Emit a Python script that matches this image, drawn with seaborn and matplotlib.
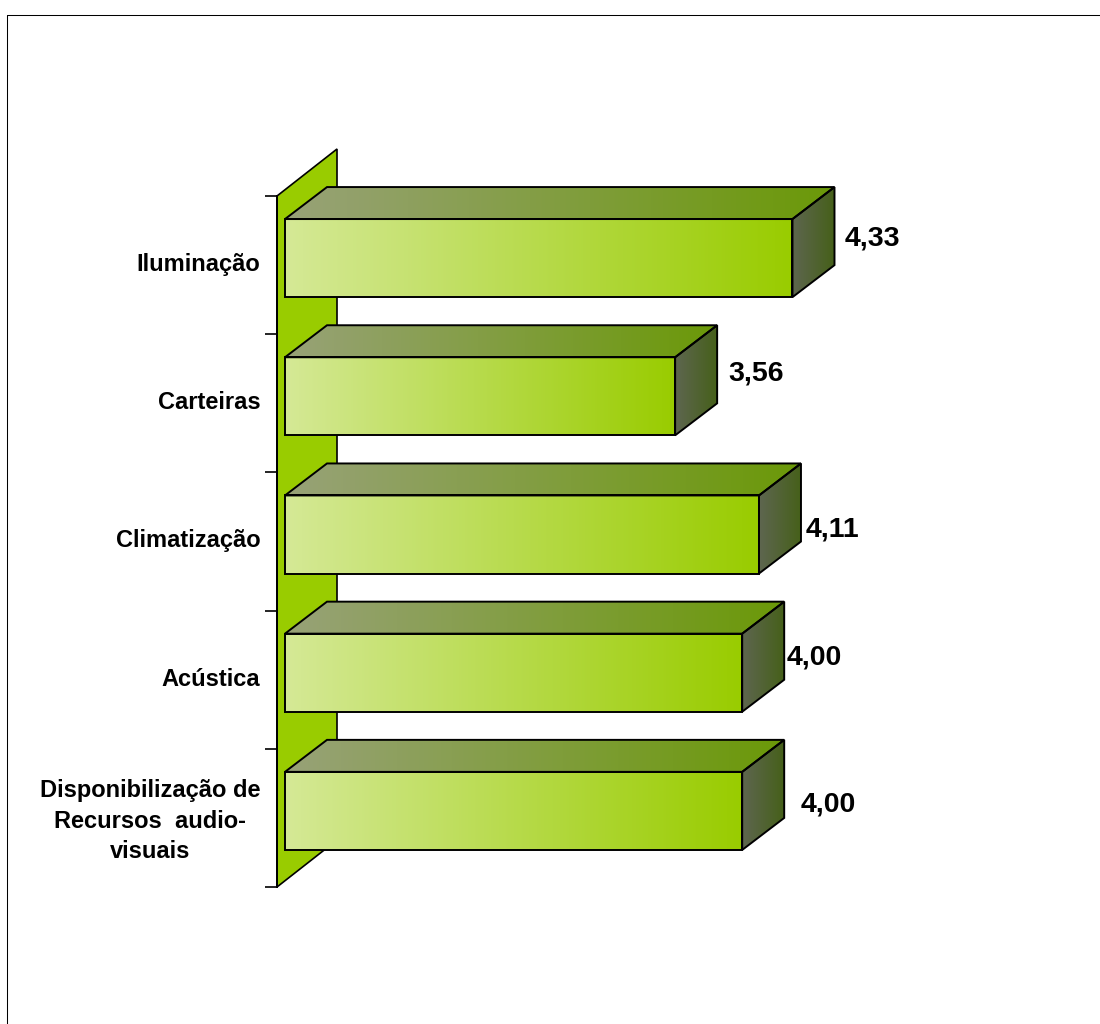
"""3D-look horizontal bars drawn over a seaborn barplot."""

import matplotlib

matplotlib.use("Agg")

import matplotlib.pyplot as plt
import numpy as np
import pandas as pd
import seaborn as sns
from matplotlib.lines import Line2D
from matplotlib.patches import Polygon
from matplotlib.transforms import Affine2D, IdentityTransform

# --- Data ---
CATEGORIES = [
    "Iluminação",
    "Carteiras",
    "Climatização",
    "Acústica",
    "Disponibilização de\nRecursos  audio-\nvisuais",
]
VALUES = [4.33, 3.56, 4.11, 4.00, 4.00]

# --- Style ---
WIDTH_PX, HEIGHT_PX = 1100, 1024
X_MIN, X_MAX = 1, 5
FRONT_SHIFT = (8, 7)  # front face sits in front of the wall
BAR_DEPTH = (42, 32)
WALL_DEPTH = (60, 47)
LABEL_OFFSETS = [(60, 27), (61, 30), (55, 12), (52, 22), (66, 13)]

FRONT_CMAP = sns.blend_palette(["#D5E996", "#99CC00"], as_cmap=True)
TOP_CMAP = sns.blend_palette(["#98A278", "#6B9908"], as_cmap=True)
SIDE_CMAP = sns.blend_palette(["#5E6650", "#46601A"], as_cmap=True)

sns.set_style("white")
plt.rcParams["font.family"] = ["Liberation Sans", "DejaVu Sans"]


def fill_gradient(ax, corners, cmap):
    """Fill a polygon given in pixel coords with a left to right gradient."""
    corners = np.asarray(corners)
    clip = Polygon(corners, closed=True, transform=IdentityTransform())
    image = ax.imshow(
        np.linspace(0, 1, 256).reshape(1, -1),
        cmap=cmap,
        aspect="auto",
        extent=(
            corners[:, 0].min(),
            corners[:, 0].max(),
            corners[:, 1].min(),
            corners[:, 1].max(),
        ),
        transform=IdentityTransform(),
        zorder=2,
    )
    # the top faces reach above the axes box
    image.set_clip_box(ax.figure.bbox)
    image.set_clip_path(clip)


def outline(ax, corners, lw=1.4, zorder=3):
    ax.add_patch(
        Polygon(
            corners,
            closed=True,
            fill=False,
            edgecolor="black",
            linewidth=lw,
            transform=IdentityTransform(),
            clip_on=False,
            zorder=zorder,
        )
    )


def draw_wall(ax):
    """Green back wall rising behind the category axis."""
    (x0, y0), (_, y1) = ax.transData.transform([(X_MIN, 4.5), (X_MIN, -0.5)])
    dx, dy = WALL_DEPTH
    corners = [(x0, y0), (x0 + dx, y0 + dy), (x0 + dx, y1 + dy), (x0, y1)]
    ax.add_patch(
        Polygon(
            corners,
            closed=True,
            facecolor="#99CC00",
            edgecolor="black",
            linewidth=1.2,
            transform=IdentityTransform(),
            clip_on=False,
            zorder=1,
        )
    )


def draw_bar_3d(ax, bar):
    """Turn one seaborn bar into a box with front, top and side faces."""
    value = bar.get_width()
    bar.set_x(X_MIN)
    bar.set_width(value - X_MIN)

    sx, sy = FRONT_SHIFT
    dx, dy = BAR_DEPTH
    bar.set_transform(ax.transData + Affine2D().translate(sx, sy))
    bar.set_facecolor("none")
    bar.set_edgecolor("black")
    bar.set_linewidth(1.4)
    bar.set_clip_on(False)
    bar.set_zorder(3)

    y_low, y_high = bar.get_y() + bar.get_height(), bar.get_y()
    (x0, y0), (x1, y1) = ax.transData.transform([(X_MIN, y_low), (value, y_high)])
    x0, x1, y0, y1 = x0 + sx, x1 + sx, y0 + sy, y1 + sy

    front = [(x0, y0), (x1, y0), (x1, y1), (x0, y1)]
    top = [(x0, y1), (x1, y1), (x1 + dx, y1 + dy), (x0 + dx, y1 + dy)]
    side = [(x1, y0), (x1 + dx, y0 + dy), (x1 + dx, y1 + dy), (x1, y1)]

    fill_gradient(ax, front, FRONT_CMAP)
    fill_gradient(ax, top, TOP_CMAP)
    fill_gradient(ax, side, SIDE_CMAP)
    outline(ax, top)
    outline(ax, side)


def main():
    df = pd.DataFrame({"category": CATEGORIES, "value": VALUES})

    fig = plt.figure(figsize=(WIDTH_PX / 100, HEIGHT_PX / 100), dpi=100)
    ax = fig.add_axes(
        [277 / WIDTH_PX, 1 - 887 / HEIGHT_PX, 609.6 / WIDTH_PX, 691 / HEIGHT_PX]
    )
    ax.patch.set_visible(False)

    sns.barplot(data=df, x="value", y="category", orient="h", width=0.565, ax=ax)
    ax.set_xlim(X_MIN, X_MAX)
    ax.set_ylim(4.5, -0.5)

    bars = list(ax.patches)
    draw_wall(ax)
    for bar in bars:
        draw_bar_3d(ax, bar)
    ax.set_xlim(X_MIN, X_MAX)
    ax.set_ylim(4.5, -0.5)

    for i, (value, offset) in enumerate(zip(VALUES, LABEL_OFFSETS)):
        ax.annotate(
            f"{value:.2f}".replace(".", ","),
            xy=(value, i),
            xytext=offset,
            textcoords="offset pixels",
            ha="left",
            va="center",
            fontsize=20.5,
            fontweight="bold",
            color="black",
            zorder=5,
        )

    ax.set_xlabel(None)
    ax.set_ylabel(None)
    ax.set_xticks([])
    ax.set_yticks(range(len(CATEGORIES)))
    ax.set_yticklabels(
        CATEGORIES,
        fontsize=17,
        fontweight="bold",
        color="black",
        multialignment="center",
        linespacing=1.42,
    )
    ax.set_yticks(np.arange(-0.5, 5), minor=True)
    ax.tick_params(axis="y", which="major", length=0, pad=12)
    ax.tick_params(axis="y", which="minor", length=8.6, width=1.2, color="black", left=True)
    # tick_params resets the label transform, so nudge the labels up after it
    for label in ax.get_yticklabels():
        label.set_transform(label.get_transform() + Affine2D().translate(0, 3))
    for side in ("top", "right", "bottom"):
        ax.spines[side].set_visible(False)
    ax.spines["left"].set_color("black")
    ax.spines["left"].set_linewidth(1.4)
    ax.spines["left"].set_zorder(2)

    # outer chart frame, only left and top fall inside the picture
    fig.add_artist(Line2D([7.2 / WIDTH_PX] * 2, [0, 1 - 15.2 / HEIGHT_PX], color="black", lw=0.75))
    fig.add_artist(Line2D([7.2 / WIDTH_PX, 1], [1 - 15.2 / HEIGHT_PX] * 2, color="black", lw=0.75))

    fig.savefig("out.png", dpi=100)
    plt.close(fig)


if __name__ == "__main__":
    main()
